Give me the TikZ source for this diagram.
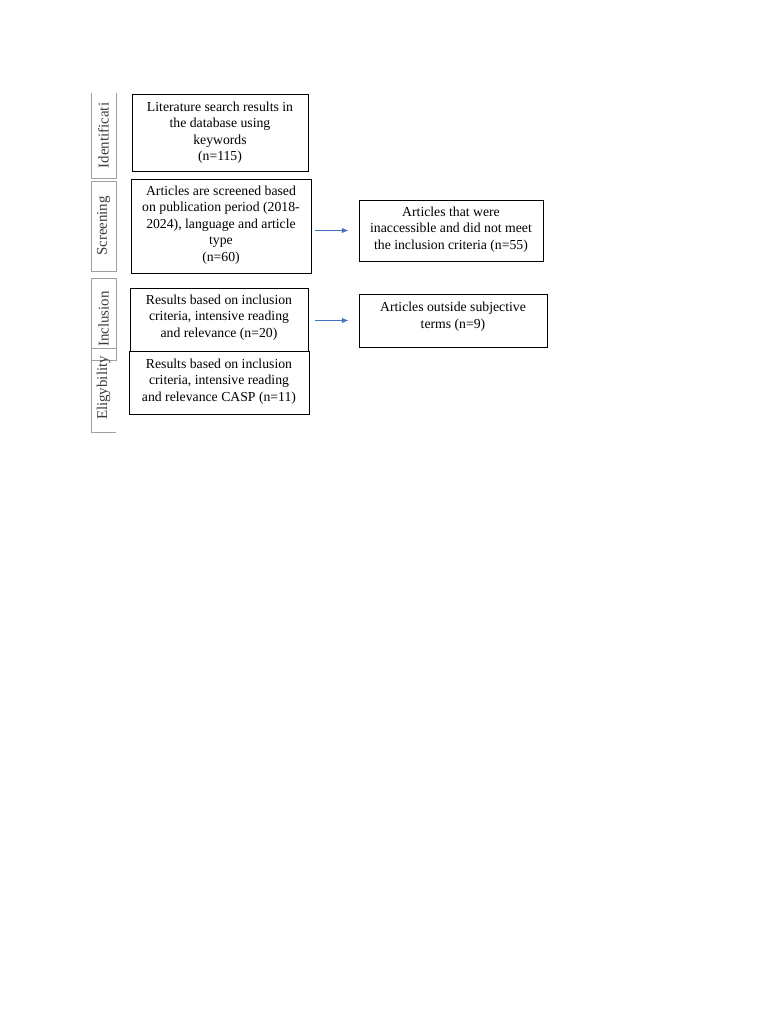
\documentclass[tikz,border=0pt]{standalone}
\usepackage{fontspec}
\setmainfont{Liberation Serif}
\usetikzlibrary{arrows.meta,fit}
\definecolor{arrblue}{HTML}{4472C4}
\definecolor{sidegray}{HTML}{A0A0A0}
\definecolor{sidetext}{HTML}{3A3A3A}
\begin{document}
\begin{tikzpicture}[x=0.75pt,y=-0.75pt,
  box/.style={draw=black, line width=0.75pt, inner sep=0pt},
  txt/.style={align=center, inner sep=0pt, font=\fontsize{10.3}{12.4}\selectfont},
  side/.style={rotate=90, inner sep=0pt, text=sidetext, font=\fontsize{11.2}{13}\selectfont},
  sidebox/.style={draw=sidegray, line width=0.5pt},
  arr/.style={draw=arrblue, line width=0.6pt, -{Latex[length=5pt,width=4pt]}}]
\useasboundingbox (0,0) rectangle (768,1024);

% side stage boxes
\draw[sidebox] (91,93) -- (91,178) -- (116,178) -- (116,93);
\draw[sidebox] (91,181) rectangle (116,271);
\draw[sidebox] (91,278) rectangle (116,360);
\draw[sidebox] (116,348) -- (91,348) -- (91,432) -- (116,432);
\node[side] (s1) at (103.5,135.5) {Identificati};
\node[side] (s2) at (103.5,226) {Screening};
\node[side] (s3) at (103.5,319) {Inclusion};
\node[side] (s4) at (103.5,388) {Eligybility};

% main boxes
\node[box, fit={(132,95) (308,171)}] (b1) {};
\node[box, fit={(131,179) (311,273)}] (b2) {};
\node[box, fit={(130,288) (308,351)}] (b3) {};
\node[box, fit={(129,351) (309,414)}] (b4) {};
\node[box, fit={(359,200) (543,261)}] (r1) {};
\node[box, fit={(359,294) (547,347)}] (r2) {};

\node[txt] (t1) at (220,132.5) {Literature search results in\\the database using\\keywords\\(n=115)};
\node[txt] (t2) at (221,225) {Articles are screened based\\on publication period (2018-\\2024), language and article\\type\\(n=60)};
\node[txt] (t3) at (219,317.5) {Results based on inclusion\\criteria, intensive reading\\and relevance (n=20)};
\node[txt] (t4) at (219,381.5) {Results based on inclusion\\criteria, intensive reading\\and relevance CASP (n=11)};
\node[txt] (t5) at (451,229.5) {Articles that were\\inaccessible and did not meet\\the inclusion criteria (n=55)};
\node[txt] (t6) at (453,316.5) {Articles outside subjective\\terms (n=9)};

% connectors
\draw[arr, shorten <=2.25pt, shorten >=7.5pt] (b2.east |- r1.west) -- (r1.west);
\draw[arr, shorten <=4.5pt, shorten >=7.5pt] (b3.east |- r2.west) -- (r2.west);
\end{tikzpicture}
\end{document}
